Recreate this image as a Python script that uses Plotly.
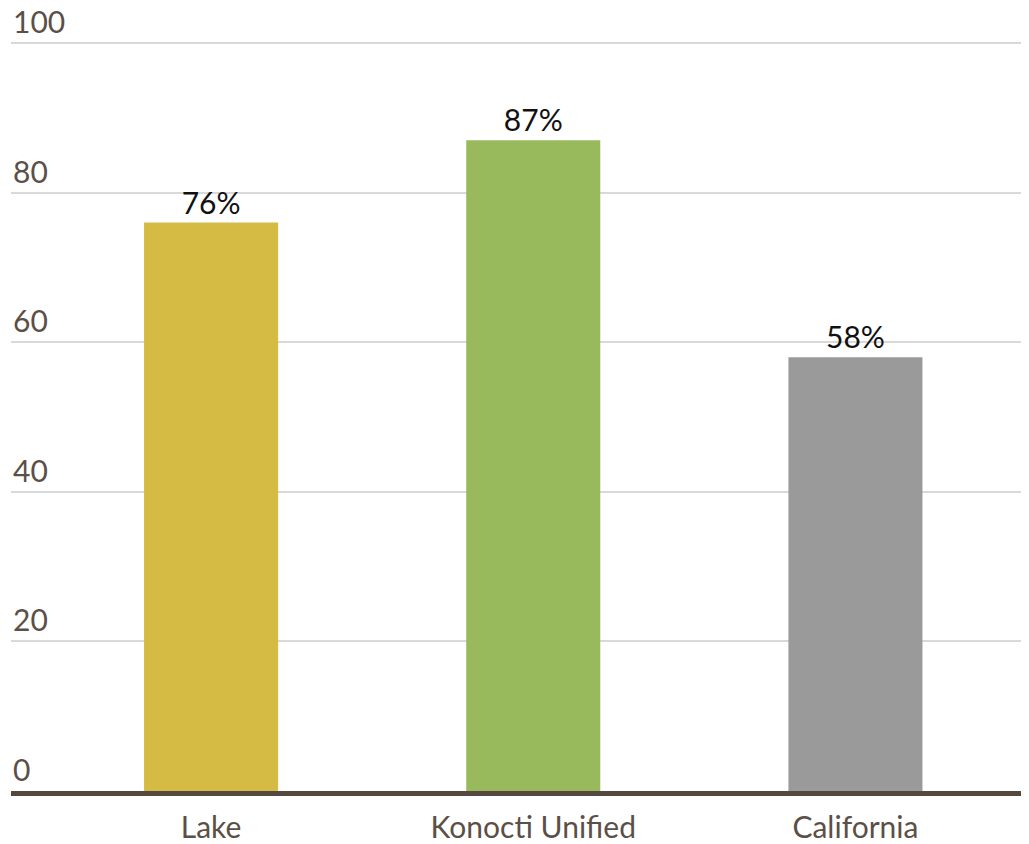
import plotly.graph_objects as go

categories = ["Lake", "Konocti Unified", "California"]
values = [76, 87, 58]
labels = ["76%", "87%", "58%"]
colors = ["#d5ba43", "#98b95c", "#9a9a9a"]
y_ticks = [0, 20, 40, 60, 80, 100]

fig = go.Figure()
fig.add_trace(go.Bar(
    x=categories, y=values, text=labels, textposition="outside",
    marker=dict(color=colors, line=dict(width=0)),
    width=0.416, cliponaxis=False,
    textfont=dict(family="Lato", size=30, color="#111111"),
    hoverinfo="skip",
))

# y-axis labels sit above their gridlines, at the left edge of the plot
for v in y_ticks:
    fig.add_annotation(
        x=0, xref="paper", y=v, yref="y", text=str(v),
        xanchor="left", yanchor="bottom", showarrow=False, yshift=2,
        font=dict(family="Lato", size=30, color="#5b4f47"),
    )

# page body has an 8px default margin, so the figure is sized/offset to compensate
fig.update_layout(
    width=1021, height=836,
    margin=dict(l=3, r=7, t=0, b=53),
    paper_bgcolor="white", plot_bgcolor="white",
    showlegend=False,
    font=dict(family="Lato", size=30, color="#5b4f47"),
    xaxis=dict(
        range=[-0.621, 2.517], showgrid=False, showline=True,
        linecolor="#54483f", linewidth=5, ticks="", zeroline=False,
        automargin=False, ticklabelstandoff=6,
        tickfont=dict(family="Lato", size=30, color="#5b4f47"),
    ),
    yaxis=dict(
        range=[0, 104.68], tickvals=y_ticks, showticklabels=False,
        showgrid=True, gridcolor="#d9d9d9", gridwidth=2, zeroline=False,
        showline=False, ticks="", automargin=False,
    ),
)

fig.write_html("out.html")
